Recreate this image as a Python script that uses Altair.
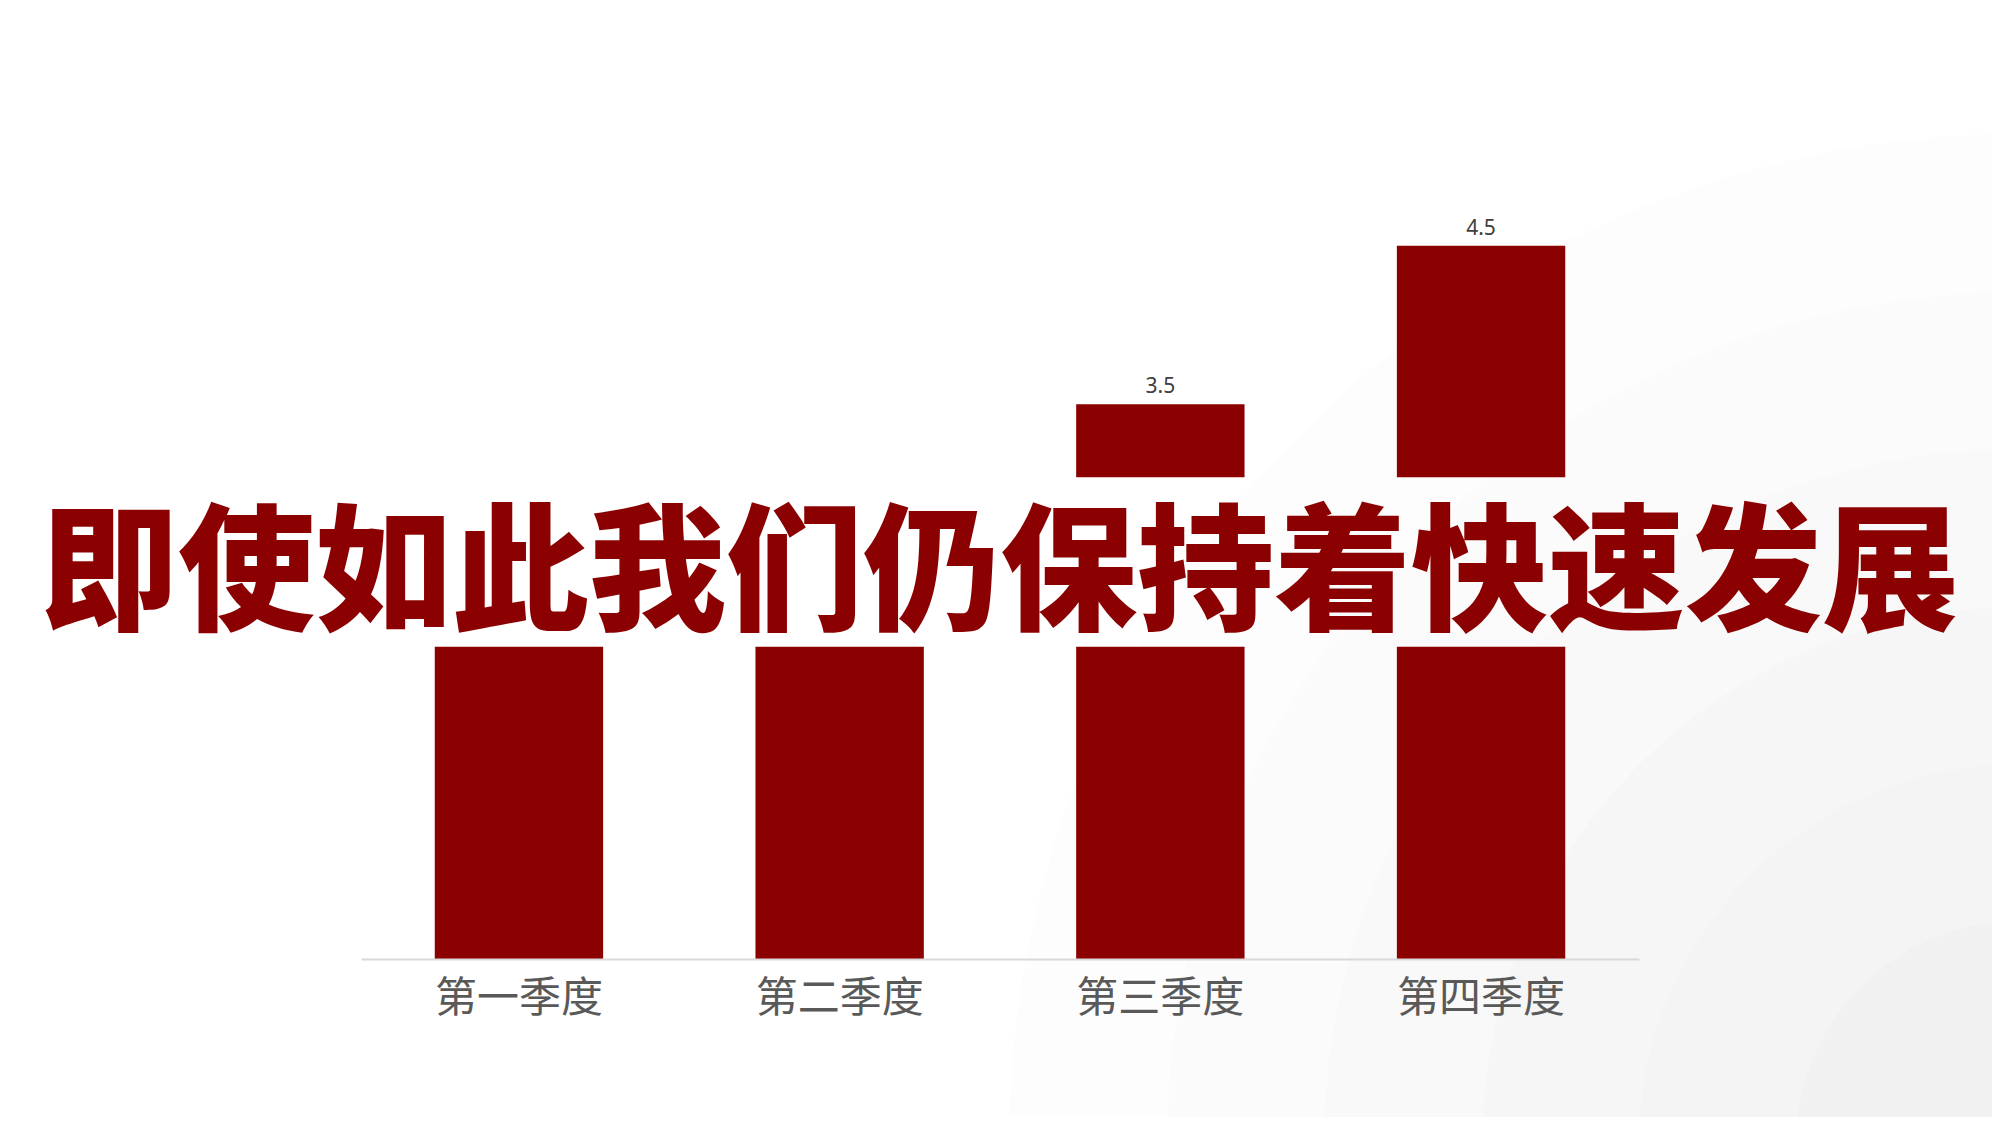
import altair as alt
import pandas as pd
import math

# ---- data ----
quarters = ["第一季度", "第二季度", "第三季度", "第四季度"]
values = [2.5, 2.8, 3.5, 4.5]
gap_band = [1.97, 3.04]          # the cut in the bars behind the headline
headline = "即使如此我们仍保持着快速发展"

ring_radii = [1010, 852, 695, 537, 380, 223]
ring_colors = ["#fdfdfd", "#fbfbfb", "#f9f9f9", "#f6f6f6", "#f4f4f4", "#f1f1f1"]

RED = "#8b0000"
lo, hi = gap_band

lower = pd.DataFrame({
    "q": quarters,
    "y0": [0.0] * len(values),
    "y1": [min(v, lo) for v in values],
})
upper = pd.DataFrame({
    "q": [q for q, v in zip(quarters, values) if v > hi],
    "y0": [hi for v in values if v > hi],
    "y1": [v for v in values if v > hi],
    "label": [f"{v:.1f}" for v in values if v > hi],
})
rings = pd.DataFrame({"r": ring_radii, "c": ring_colors, "o": list(range(len(ring_radii)))})

W, H = 1984, 951
xscale = alt.Scale(domain=quarters, range=[353, 1631], paddingInner=0.475, paddingOuter=0.23)
yscale = alt.Scale(domain=[0, 6.0])

bg = alt.Chart(rings).mark_arc(theta=0, theta2=2 * math.pi, clip=False).encode(
    radius=alt.Radius("r:Q", scale=None, stack=None),
    color=alt.Color("c:N", scale=None),
    x=alt.value(2011),
    y=alt.value(1136),
    order=alt.Order("o:Q"),
)

xaxis = alt.Axis(
    title=None, ticks=False, domainColor="#d9d9d9", domainWidth=2,
    labelFont="Noto Sans CJK SC", labelFontSize=42, labelColor="#595959",
    labelPadding=19, labelAngle=0, grid=False, zindex=1,
)

bars_low = alt.Chart(lower).mark_bar(color=RED).encode(
    x=alt.X("q:N", scale=xscale, axis=xaxis, sort=quarters),
    y=alt.Y("y0:Q", scale=yscale, axis=None),
    y2="y1:Q",
)
bars_up = alt.Chart(upper).mark_bar(color=RED).encode(
    x=alt.X("q:N", scale=xscale, sort=quarters),
    y=alt.Y("y0:Q", scale=yscale),
    y2="y1:Q",
)
labels = alt.Chart(upper).mark_text(
    font="Noto Sans", fontSize=21, color="#404040", baseline="alphabetic", dy=-11
).encode(
    x=alt.X("q:N", scale=xscale, sort=quarters),
    y=alt.Y("y1:Q", scale=yscale),
    text="label:N",
)
title = alt.Chart(pd.DataFrame({"t": [headline]})).mark_text(
    font="Noto Sans CJK SC", fontSize=137, fontWeight=900, color=RED,
    align="center", baseline="middle",
).encode(
    x=alt.value(992), y=alt.value(571), text="t:N"
)

chart = alt.layer(bg, bars_low, bars_up, labels, title).properties(
    width=W, height=H,
    autosize=alt.AutoSizeParams(type="none"),
    padding={"left": 0, "top": 0, "right": 0, "bottom": 158},
    background="white",
).configure_view(stroke=None)

chart.save("out.html", embed_options={"renderer": "svg", "actions": False})
